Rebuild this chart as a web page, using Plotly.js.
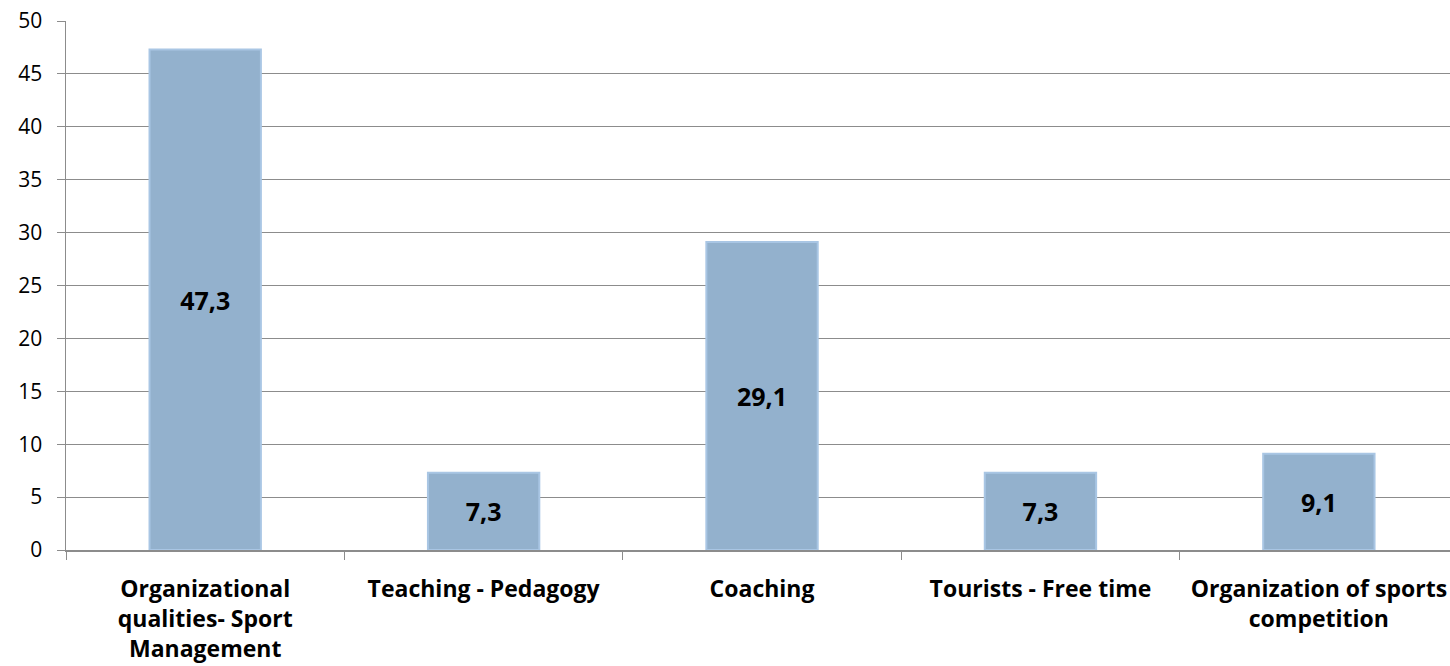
<!DOCTYPE html>
<html>
<head>
<meta charset="utf-8">
<script src="https://cdn.plot.ly/plotly-3.0.1.min.js"></script>
<style>html,body{margin:0;padding:0;background:#fff;}#chart{width:1450px;height:666px;}</style>
</head>
<body>
<div id="chart"></div>
<script>
const categories = [
  "Organizational<br>qualities- Sport<br>Management",
  "Teaching - Pedagogy",
  "Coaching",
  "Tourists - Free time",
  "Organization of sports<br>competition"
];
const values = [47.3, 7.3, 29.1, 7.3, 9.1];
const labels = values.map(v => v.toFixed(1).replace('.', ','));
const yTicks = [0, 5, 10, 15, 20, 25, 30, 35, 40, 45, 50];

const trace = {
  type: 'bar',
  x: categories,
  y: values,
  text: labels,
  textposition: 'inside',
  insidetextanchor: 'middle',
  textangle: 0,
  textfont: {family: '"Open Sans", "DejaVu Sans", sans-serif', size: 25, color: '#000', weight: 'bold'},
  width: 0.4,
  marker: {color: '#93B1CD', line: {color: '#A9C6E4', width: 2}},
  hoverinfo: 'skip'
};

const layout = {
  width: 1450, height: 666,
  margin: {l: 66, r: 0, t: 21, b: 116},
  paper_bgcolor: '#fff', plot_bgcolor: '#fff',
  showlegend: false,
  font: {family: '"Open Sans", "DejaVu Sans", sans-serif', color: '#000'},
  xaxis: {
    range: [-0.5, 4.471],
    tickson: 'boundaries',
    ticks: 'outside', ticklen: 8, tickcolor: '#8c8c8c', tickwidth: 1,
    showline: true, linecolor: '#8c8c8c', linewidth: 1.5,
    showgrid: false,
    ticklabelstandoff: 18,
    tickfont: {size: 23, weight: 'bold', color: '#000'}
  },
  yaxis: {
    range: [0, 50],
    tickvals: yTicks,
    ticktext: yTicks.map(String),
    ticks: 'outside', ticklen: 8, tickcolor: '#8c8c8c', tickwidth: 1,
    showline: true, linecolor: '#8c8c8c', linewidth: 1.5,
    showgrid: true, gridcolor: '#8c8c8c', gridwidth: 1,
    zeroline: false,
    ticklabelstandoff: 10,
    tickfont: {size: 21, color: '#000'}
  }
};

Plotly.newPlot('chart', [trace], layout, {staticPlot: true, displayModeBar: false});
</script>
</body>
</html>
